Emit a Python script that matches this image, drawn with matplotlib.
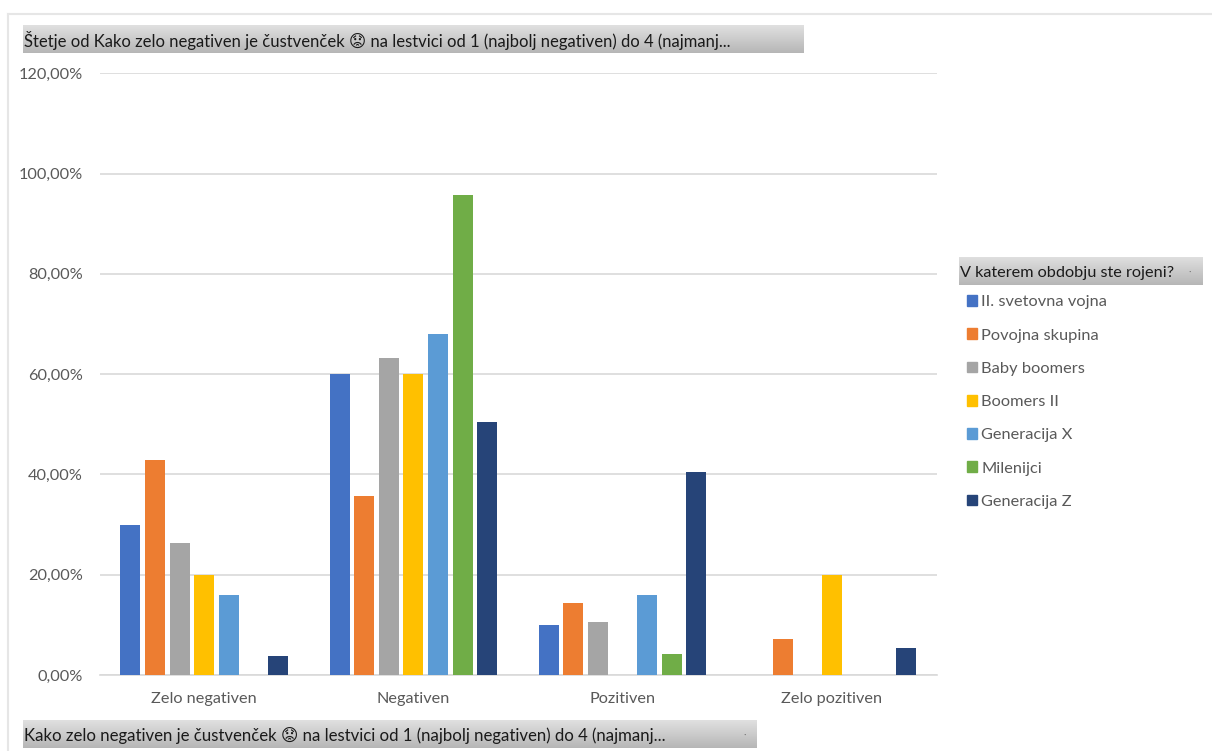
import numpy as np
import matplotlib
matplotlib.use('Agg')
from matplotlib import pyplot as plt
from matplotlib.lines import Line2D
from matplotlib.patches import Patch
from matplotlib.ticker import FuncFormatter

W, H = 1212, 751

categories = ['Zelo negativen', 'Negativen', 'Pozitiven', 'Zelo pozitiven']
druga_vojna = [30.0, 60.0, 10.0, 0]
povojna = [42.9, 35.7, 14.3, 7.1]
baby_boomers = [26.3, 63.2, 10.5, 0]
boomers_2 = [20.0, 60.0, 0, 20.0]
generacija_x = [16.0, 68.0, 16.0, 0]
milenijci = [0, 95.8, 4.2, 0]
generacija_z = [3.7, 50.4, 40.5, 5.4]

series = [druga_vojna, povojna, baby_boomers, boomers_2, generacija_x, milenijci, generacija_z]
names = ['II. svetovna vojna', 'Povojna skupina', 'Baby boomers', 'Boomers II',
         'Generacija X', 'Milenijci', 'Generacija Z']
colors = ['#4472C4', '#ED7D31', '#A5A5A5', '#FFC000', '#5B9BD5', '#70AD47', '#264478']

title_top = 'Štetje od Kako zelo negativen je čustvenček \U0001F61F na lestvici od 1 (najbolj negativen) do 4 (najmanj...'
title_bottom = 'Kako zelo negativen je čustvenček \U0001F61F na lestvici od 1 (najbolj negativen) do 4 (najmanj...'
title_legend = 'V katerem obdobju ste rojeni?'

plt.rcParams['font.family'] = ['Lato', 'DejaVu Sans']
GREY = '#595959'


def box(x0, y0, x1, y1):
    # pixel box (from top left) to figure coordinates
    return [x0 / W, 1 - y1 / H, (x1 - x0) / W, (y1 - y0) / H]


def field_button(fig, x0, y0, x1, y1, label, size, dot=None):
    # grey gradient header like the pivot chart field buttons
    a = fig.add_axes(box(x0, y0, x1, y1), zorder=3)
    grad = np.linspace(224, 182, 64).reshape(-1, 1) / 255
    a.imshow(grad, aspect='auto', cmap='gray', vmin=0, vmax=1)
    a.axis('off')
    ymid = 1 - ((y0 + y1) / 2 + 1.5) / H
    fig.text((x0 + 1) / W, ymid, label, fontsize=size, color='#1a1a1a',
             va='center', ha='left', zorder=5)
    if dot:
        fig.text(dot / W, ymid, '·', fontsize=7, color='#777777',
                 va='center', ha='center', zorder=5)


fig = plt.figure(figsize=(W / 100, H / 100), dpi=100)

# chart area border, only top and left are visible
fig.add_artist(Line2D([8 / W, 8 / W], [0, 1 - 13.5 / H], color='#e6e6e6', lw=1.5))
fig.add_artist(Line2D([8 / W, 1], [1 - 13.5 / H, 1 - 13.5 / H], color='#e6e6e6', lw=1.5))

ax = fig.add_axes(box(99.5, 73.2, 936.5, 675))
bar_w = 0.0955
step = 0.1175
x = np.arange(len(categories))
for i, vals in enumerate(series):
    ax.bar(x + (i - 3) * step, vals, width=bar_w, color=colors[i], zorder=3)

ax.set_xlim(-0.5, 3.5)
ax.set_ylim(0, 120)
ax.set_yticks(np.arange(0, 121, 20))
ax.yaxis.set_major_formatter(FuncFormatter(lambda v, p: ('%.2f' % v).replace('.', ',') + '%'))
ax.set_xticks(x)
ax.set_xticklabels(categories)
ax.grid(axis='y', color='#d9d9d9', lw=1.2, zorder=0)
ax.tick_params(axis='both', length=0, labelsize=11.7, labelcolor=GREY)
ax.tick_params(axis='x', pad=12)
ax.tick_params(axis='y', pad=12)
for s in ['top', 'right', 'left']:
    ax.spines[s].set_visible(False)
ax.spines['bottom'].set_color('#d9d9d9')
ax.spines['bottom'].set_linewidth(1.2)

field_button(fig, 23, 25, 804, 53, title_top, 12.0)
field_button(fig, 23, 720, 757, 748, title_bottom, 12.03, dot=745)
field_button(fig, 959, 257, 1203, 285, title_legend, 11.7, dot=1190)

handles = [Patch(color=c, label=n) for c, n in zip(colors, names)]
fig.legend(handles=handles, loc='upper left', bbox_to_anchor=(959 / W, 1 - 287 / H),
           frameon=False, fontsize=11.8, labelcolor=GREY, handlelength=0.62, handleheight=0.62,
           handletextpad=0.24, labelspacing=1.17, borderpad=0.5, borderaxespad=0)

fig.savefig('out.png', dpi=100)
